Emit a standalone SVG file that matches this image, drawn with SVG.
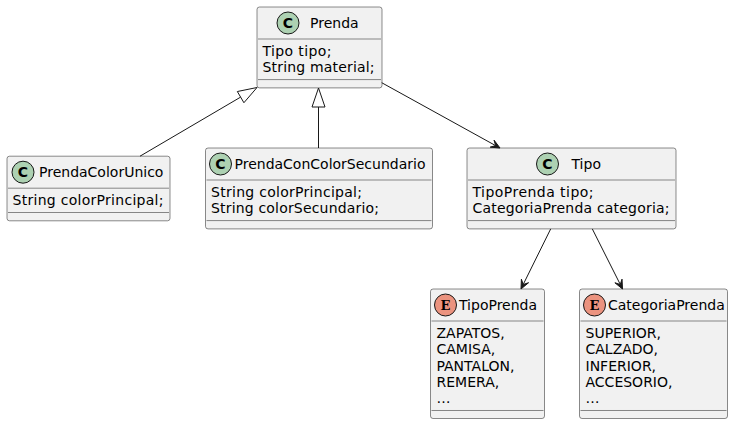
<svg xmlns="http://www.w3.org/2000/svg" width="737" height="424" viewBox="0 0 737 424">
<style>
.box{fill:#F1F1F1;stroke:#181818;stroke-width:0.5}
.div{stroke:#181818;stroke-width:0.5}
.t{font-family:"DejaVu Sans",sans-serif;font-size:14px;fill:#000000}
.cc{fill:#ADD1B2;stroke:#181818;stroke-width:1}
.ec{fill:#EB937F;stroke:#181818;stroke-width:1}
.cl{font-family:"DejaVu Sans",sans-serif;font-size:14px;font-weight:bold;fill:#000000;text-anchor:middle}
.el{font-family:"DejaVu Serif",serif;font-size:13px;font-weight:bold;fill:#000000;text-anchor:middle}
.ln{stroke:#181818;stroke-width:1;fill:none}
.ah{fill:#181818;stroke:#181818;stroke-width:1}
.tri{fill:none;stroke:#181818;stroke-width:1}
</style>
<rect width="737" height="424" fill="#FFFFFF"/>
<g id="Prenda">
<rect class="box" x="257" y="7" width="125" height="80.9" rx="2.5"/>
<circle class="cc" cx="288" cy="23" r="11"/>
<text class="cl" x="288" y="28">C</text>
<text class="t" x="310" y="28.15">Prenda</text>
<line class="div" x1="258" y1="39" x2="381" y2="39"/>
<text class="t" x="262.5" y="55.99" textLength="69" lengthAdjust="spacing">Tipo tipo;</text>
<text class="t" x="262.5" y="72.29" textLength="112" lengthAdjust="spacing">String material;</text>
<line class="div" x1="258" y1="79.59" x2="381" y2="79.59"/>
</g>
<g id="PrendaColorUnico">
<rect class="box" x="7" y="156.2" width="163" height="64.6" rx="2.5"/>
<circle class="cc" cx="23" cy="172.2" r="11"/>
<text class="cl" x="23" y="177.2">C</text>
<text class="t" x="39" y="177.35">PrendaColorUnico</text>
<line class="div" x1="8" y1="188.2" x2="169" y2="188.2"/>
<text class="t" x="12.5" y="205.2" textLength="151" lengthAdjust="spacing">String colorPrincipal;</text>
<line class="div" x1="8" y1="212.5" x2="169" y2="212.5"/>
</g>
<g id="PrendaConColorSecundario">
<rect class="box" x="205.5" y="148" width="227" height="80.9" rx="2.5"/>
<circle class="cc" cx="220.5" cy="164" r="11"/>
<text class="cl" x="220.5" y="169">C</text>
<text class="t" x="234.5" y="169.15">PrendaConColorSecundario</text>
<line class="div" x1="206.5" y1="180" x2="431.5" y2="180"/>
<text class="t" x="211" y="196.99" textLength="151" lengthAdjust="spacing">String colorPrincipal;</text>
<text class="t" x="211" y="213.29" textLength="168" lengthAdjust="spacing">String colorSecundario;</text>
<line class="div" x1="206.5" y1="220.59" x2="431.5" y2="220.59"/>
</g>
<g id="Tipo">
<rect class="box" x="467" y="148" width="209" height="80.9" rx="2.5"/>
<circle class="cc" cx="547.5" cy="164" r="11"/>
<text class="cl" x="547.5" y="169">C</text>
<text class="t" x="571.5" y="169.15">Tipo</text>
<line class="div" x1="468" y1="180" x2="675" y2="180"/>
<text class="t" x="472.5" y="196.99" textLength="121" lengthAdjust="spacing">TipoPrenda tipo;</text>
<text class="t" x="472.5" y="213.29" textLength="197" lengthAdjust="spacing">CategoriaPrenda categoria;</text>
<line class="div" x1="468" y1="220.59" x2="675" y2="220.59"/>
</g>
<g id="TipoPrenda">
<rect class="box" x="430.5" y="289" width="114" height="129.5" rx="2.5"/>
<circle class="ec" cx="445.5" cy="305" r="11"/>
<text class="el" x="445.5" y="309.7">E</text>
<text class="t" x="459" y="310.15">TipoPrenda</text>
<line class="div" x1="431.5" y1="321" x2="543.5" y2="321"/>
<text class="t" x="436.5" y="337.99">ZAPATOS,</text>
<text class="t" x="436.5" y="354.29">CAMISA,</text>
<text class="t" x="436.5" y="370.59">PANTALON,</text>
<text class="t" x="436.5" y="386.89">REMERA,</text>
<text class="t" x="436.5" y="403.19">…</text>
<line class="div" x1="431.5" y1="410.49" x2="543.5" y2="410.49"/>
</g>
<g id="CategoriaPrenda">
<rect class="box" x="579.5" y="289" width="148" height="129.5" rx="2.5"/>
<circle class="ec" cx="594.5" cy="305" r="11"/>
<text class="el" x="594.5" y="309.7">E</text>
<text class="t" x="608" y="310.15">CategoriaPrenda</text>
<line class="div" x1="580.5" y1="321" x2="726.5" y2="321"/>
<text class="t" x="585.5" y="337.99">SUPERIOR,</text>
<text class="t" x="585.5" y="354.29">CALZADO,</text>
<text class="t" x="585.5" y="370.59">INFERIOR,</text>
<text class="t" x="585.5" y="386.89">ACCESORIO,</text>
<text class="t" x="585.5" y="403.19">…</text>
<line class="div" x1="580.5" y1="410.49" x2="726.5" y2="410.49"/>
</g>
<g id="connectors">
<line class="ln" x1="140" y1="156.2" x2="240.62" y2="97.12"/>
<polygon class="tri" points="257,87.5 243.91,102.72 237.33,91.52"/>
<line class="ln" x1="318.5" y1="148" x2="318.5" y2="107"/>
<polygon class="tri" points="318.5,88 325,107 312,107"/>
<line class="ln" x1="381.7" y1="82.7" x2="495.6" y2="145.6"/>
<polygon class="ah" points="500,148 490.19,147.15 495.62,145.58 494.05,140.15"/>
<line class="ln" x1="550.7" y1="228.9" x2="523.2" y2="284.5"/>
<polygon class="ah" points="521,289 521.40,279.16 523.22,284.52 528.58,282.70"/>
<line class="ln" x1="592.3" y1="228.9" x2="620.3" y2="284.5"/>
<polygon class="ah" points="622.5,289 614.89,282.76 620.26,284.53 622.03,279.16"/>
</g>
</svg>
